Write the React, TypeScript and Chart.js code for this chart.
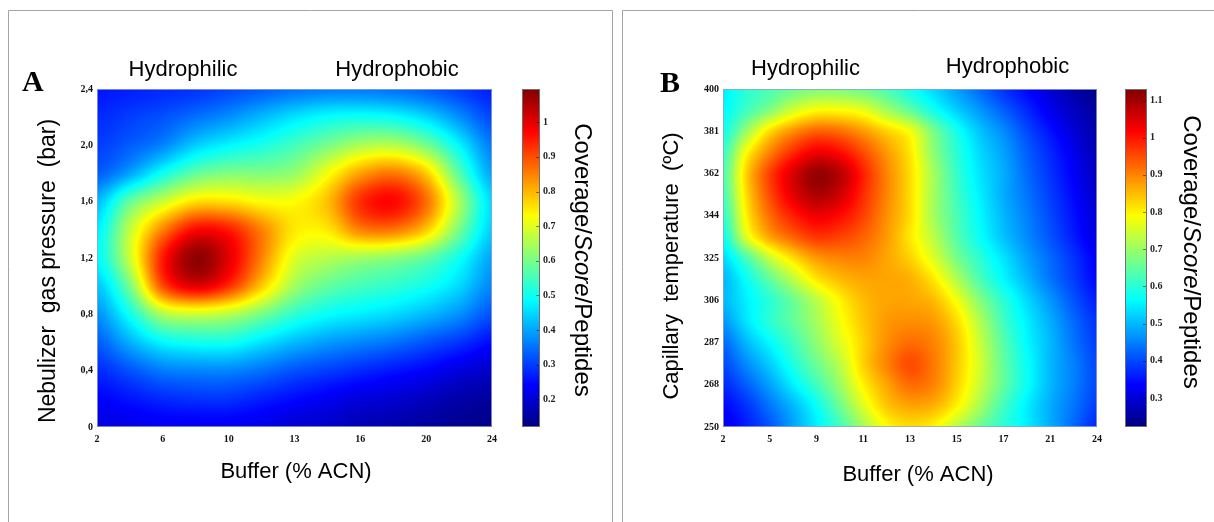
import React, { useEffect, useRef } from 'react';
import { Chart, registerables } from 'chart.js';

Chart.register(...registerables);

// ---------------- Panel A data ----------------
const A_X_TICK_LABELS = ['2', '6', '10', '13', '16', '20', '24'];
const A_Y_TICK_VALUES = [0, 0.4, 0.8, 1.2, 1.6, 2.0, 2.4];
const A_Y_TICK_LABELS = ['0', '0,4', '0,8', '1,2', '1,6', '2,0', '2,4'];
// grid columns (x-axis tick-index positions) and rows (bar)
const A_GRID_X = [0, 0.5, 1, 1.5, 2, 2.5, 3, 3.5, 4, 4.5, 5, 5.5, 6];
const A_GRID_Y = [2.4, 2.2, 2.0, 1.8, 1.6, 1.4, 1.2, 1.0, 0.8, 0.6, 0.4, 0.2, 0];
const A_VALUES = [
  [0.26, 0.27, 0.28, 0.29, 0.31, 0.33, 0.35, 0.36, 0.36, 0.35, 0.33, 0.30, 0.27],
  [0.28, 0.30, 0.32, 0.35, 0.38, 0.42, 0.46, 0.49, 0.50, 0.49, 0.45, 0.38, 0.31],
  [0.30, 0.33, 0.37, 0.44, 0.48, 0.51, 0.55, 0.60, 0.65, 0.66, 0.60, 0.48, 0.36],
  [0.33, 0.40, 0.50, 0.58, 0.61, 0.61, 0.63, 0.72, 0.82, 0.86, 0.78, 0.57, 0.40],
  [0.42, 0.58, 0.68, 0.76, 0.76, 0.73, 0.73, 0.79, 0.93, 0.97, 0.87, 0.65, 0.45],
  [0.47, 0.67, 0.85, 0.97, 0.95, 0.85, 0.75, 0.75, 0.85, 0.86, 0.78, 0.60, 0.44],
  [0.48, 0.68, 0.95, 1.08, 1.00, 0.85, 0.70, 0.66, 0.64, 0.62, 0.58, 0.50, 0.40],
  [0.43, 0.60, 0.90, 1.00, 0.93, 0.78, 0.64, 0.58, 0.55, 0.53, 0.50, 0.45, 0.37],
  [0.38, 0.50, 0.65, 0.68, 0.66, 0.60, 0.53, 0.49, 0.47, 0.45, 0.42, 0.38, 0.32],
  [0.33, 0.41, 0.48, 0.50, 0.50, 0.46, 0.42, 0.39, 0.37, 0.35, 0.32, 0.29, 0.25],
  [0.28, 0.32, 0.36, 0.37, 0.37, 0.35, 0.32, 0.30, 0.28, 0.26, 0.24, 0.21, 0.19],
  [0.24, 0.26, 0.28, 0.29, 0.29, 0.27, 0.25, 0.23, 0.21, 0.20, 0.18, 0.16, 0.15],
  [0.21, 0.22, 0.23, 0.23, 0.23, 0.22, 0.20, 0.19, 0.17, 0.16, 0.15, 0.14, 0.13],
];
const A_CB_MIN = 0.12;
const A_CB_MAX = 1.096;
const A_CB_TICKS = [0.2, 0.3, 0.4, 0.5, 0.6, 0.7, 0.8, 0.9, 1];
const A_CB_LABELS = ['0.2', '0.3', '0.4', '0.5', '0.6', '0.7', '0.8', '0.9', '1'];

// ---------------- Panel B data ----------------
const B_X_TICK_LABELS = ['2', '5', '9', '11', '13', '15', '17', '21', '24'];
const B_Y_TICK_LABELS = ['250', '268', '287', '306', '325', '344', '362', '381', '400'];
const B_GRID_X = [0, 0.5, 1, 1.5, 2, 2.5, 3, 3.5, 4, 4.5, 5, 5.5, 6, 6.5, 7, 7.5, 8];
const B_GRID_Y = [8, 7.5, 7, 6.5, 6, 5.5, 5, 4.5, 4, 3.5, 3, 2.5, 2, 1.5, 1, 0.5, 0];
const B_VALUES = [
  [0.55, 0.60, 0.63, 0.66, 0.68, 0.68, 0.66, 0.63, 0.58, 0.53, 0.48, 0.43, 0.38, 0.34, 0.30, 0.26, 0.23],
  [0.56, 0.62, 0.68, 0.75, 0.79, 0.79, 0.77, 0.71, 0.65, 0.58, 0.52, 0.47, 0.42, 0.37, 0.32, 0.28, 0.25],
  [0.58, 0.70, 0.82, 0.89, 0.93, 0.92, 0.88, 0.83, 0.78, 0.67, 0.58, 0.51, 0.46, 0.40, 0.35, 0.30, 0.26],
  [0.61, 0.79, 0.90, 0.98, 1.03, 1.01, 0.95, 0.88, 0.81, 0.69, 0.60, 0.53, 0.48, 0.42, 0.37, 0.32, 0.27],
  [0.63, 0.83, 0.96, 1.05, 1.11, 1.08, 0.99, 0.90, 0.82, 0.71, 0.61, 0.54, 0.49, 0.43, 0.38, 0.33, 0.28],
  [0.62, 0.82, 0.95, 1.04, 1.09, 1.06, 0.98, 0.90, 0.82, 0.71, 0.62, 0.55, 0.49, 0.44, 0.39, 0.34, 0.29],
  [0.60, 0.80, 0.92, 0.99, 1.03, 1.01, 0.96, 0.89, 0.82, 0.71, 0.63, 0.56, 0.50, 0.45, 0.40, 0.35, 0.30],
  [0.57, 0.76, 0.87, 0.93, 0.97, 0.96, 0.93, 0.88, 0.81, 0.73, 0.64, 0.57, 0.51, 0.46, 0.41, 0.36, 0.31],
  [0.53, 0.63, 0.74, 0.82, 0.88, 0.90, 0.90, 0.87, 0.83, 0.76, 0.67, 0.60, 0.54, 0.48, 0.43, 0.38, 0.33],
  [0.50, 0.57, 0.65, 0.73, 0.81, 0.85, 0.87, 0.87, 0.86, 0.81, 0.72, 0.63, 0.56, 0.50, 0.44, 0.39, 0.34],
  [0.50, 0.55, 0.60, 0.66, 0.73, 0.80, 0.85, 0.87, 0.87, 0.85, 0.78, 0.68, 0.60, 0.53, 0.47, 0.41, 0.36],
  [0.47, 0.54, 0.60, 0.65, 0.71, 0.78, 0.84, 0.88, 0.89, 0.88, 0.82, 0.72, 0.62, 0.55, 0.49, 0.43, 0.38],
  [0.43, 0.50, 0.56, 0.62, 0.69, 0.76, 0.83, 0.89, 0.92, 0.90, 0.84, 0.74, 0.64, 0.56, 0.50, 0.44, 0.39],
  [0.40, 0.46, 0.52, 0.59, 0.66, 0.73, 0.83, 0.90, 0.95, 0.91, 0.84, 0.75, 0.65, 0.57, 0.50, 0.45, 0.40],
  [0.37, 0.42, 0.48, 0.55, 0.62, 0.70, 0.80, 0.87, 0.92, 0.90, 0.83, 0.74, 0.65, 0.57, 0.50, 0.45, 0.40],
  [0.34, 0.38, 0.44, 0.50, 0.57, 0.66, 0.76, 0.84, 0.87, 0.86, 0.80, 0.71, 0.62, 0.55, 0.49, 0.44, 0.39],
  [0.32, 0.36, 0.41, 0.48, 0.55, 0.62, 0.71, 0.79, 0.82, 0.80, 0.73, 0.66, 0.60, 0.55, 0.49, 0.43, 0.37],
];
const B_CB_MIN = 0.222;
const B_CB_MAX = 1.131;
const B_CB_TICKS = [0.3, 0.4, 0.5, 0.6, 0.7, 0.8, 0.9, 1, 1.1];
const B_CB_LABELS = ['0.3', '0.4', '0.5', '0.6', '0.7', '0.8', '0.9', '1', '1.1'];

// ---------------- helpers ----------------
function jet(t: number): [number, number, number] {
  const c = (x: number) => Math.max(0, Math.min(1, x));
  const tt = c(t);
  return [
    Math.round(255 * c(1.5 - Math.abs(4 * tt - 3))),
    Math.round(255 * c(1.5 - Math.abs(4 * tt - 2))),
    Math.round(255 * c(1.5 - Math.abs(4 * tt - 1))),
  ];
}

function sampleGrid(values: number[][], fx: number, fy: number): number {
  const ny = values.length;
  const nx = values[0].length;
  const ix = Math.floor(fx);
  const iy = Math.floor(fy);
  const tx = fx - ix;
  const ty = fy - iy;
  const cl = (v: number, n: number) => Math.max(0, Math.min(n - 1, v));
  const get = (r: number, c: number) => values[cl(r, ny)][cl(c, nx)];
  const cr = (p0: number, p1: number, p2: number, p3: number, t: number) =>
    0.5 * (2 * p1 + (-p0 + p2) * t + (2 * p0 - 5 * p1 + 4 * p2 - p3) * t * t + (-p0 + 3 * p1 - 3 * p2 + p3) * t * t * t);
  const r: number[] = [];
  for (let m = -1; m <= 2; m++) {
    r.push(cr(get(iy + m, ix - 1), get(iy + m, ix), get(iy + m, ix + 1), get(iy + m, ix + 2), tx));
  }
  return cr(r[0], r[1], r[2], r[3], ty);
}

interface PanelCfg {
  id: string;
  letter: string;
  canvasLeft: number;
  canvasWidth: number;
  yAxisWidth: number;
  cbAxisWidth: number;
  cbBarOffset: number;
  cbBarWidth: number;
  cbLabelPad: number;
  xLabels: string[];
  yTickValues: number[];
  yLabels: string[];
  yMax: number;
  gridX: number[];
  gridY: number[];
  values: number[][];
  cbMin: number;
  cbMax: number;
  cbTicks: number[];
  cbLabels: string[];
  yTitle: string;
  yTitleSize: number;
  letterPos: [number, number];
  philicPos: [number, number];
  phobicPos: [number, number];
  xTitlePos: [number, number];
  yTitlePos: [number, number];
  cbTitlePos: [number, number];
  borderLeft: number;
  borderRight: number | null;
}

const PANEL_A: PanelCfg = {
  id: 'A',
  letter: 'A',
  canvasLeft: 0,
  canvasWidth: 617,
  yAxisWidth: 97,
  cbAxisWidth: 125,
  cbBarOffset: 30,
  cbBarWidth: 18,
  cbLabelPad: 51,
  xLabels: A_X_TICK_LABELS,
  yTickValues: A_Y_TICK_VALUES,
  yLabels: A_Y_TICK_LABELS,
  yMax: 2.4,
  gridX: A_GRID_X,
  gridY: A_GRID_Y,
  values: A_VALUES,
  cbMin: A_CB_MIN,
  cbMax: A_CB_MAX,
  cbTicks: A_CB_TICKS,
  cbLabels: A_CB_LABELS,
  yTitle: 'Nebulizer  gas pressure  (bar)',
  yTitleSize: 23,
  letterPos: [22, 91],
  philicPos: [183, 76],
  phobicPos: [397, 76],
  xTitlePos: [296, 478],
  yTitlePos: [49, 271],
  cbTitlePos: [582, 260],
  borderLeft: 8.5,
  borderRight: 612.5,
};

const PANEL_B: PanelCfg = {
  id: 'B',
  letter: 'B',
  canvasLeft: 617,
  canvasWidth: 597,
  yAxisWidth: 106,
  cbAxisWidth: 117,
  cbBarOffset: 28,
  cbBarWidth: 22,
  cbLabelPad: 53,
  xLabels: B_X_TICK_LABELS,
  yTickValues: [0, 1, 2, 3, 4, 5, 6, 7, 8],
  yLabels: B_Y_TICK_LABELS,
  yMax: 8,
  gridX: B_GRID_X,
  gridY: B_GRID_Y,
  values: B_VALUES,
  cbMin: B_CB_MIN,
  cbMax: B_CB_MAX,
  cbTicks: B_CB_TICKS,
  cbLabels: B_CB_LABELS,
  yTitle: 'Capillary  temperature  (ºC)',
  yTitleSize: 22,
  letterPos: [43, 92],
  philicPos: [188.5, 75],
  phobicPos: [390.5, 73],
  xTitlePos: [301, 481],
  yTitlePos: [55, 266],
  cbTitlePos: [574, 252],
  borderLeft: 5.5,
  borderRight: null,
};

const TICK_FONT = { family: '"Liberation Serif", "Times New Roman", serif', size: 10, weight: 'bold' as const };
const SANS = '"Liberation Sans", Arial, sans-serif';

function makeHeatPlugin(cfg: PanelCfg) {
  return {
    id: 'heat' + cfg.id,
    beforeDatasetsDraw(chart: any) {
      const { ctx, chartArea: ca, scales } = chart;
      const xs = scales.x;
      const ys = scales.y;
      const cb = scales.cb;
      const w = Math.round(ca.right - ca.left);
      const h = Math.round(ca.bottom - ca.top);
      const off = document.createElement('canvas');
      off.width = w;
      off.height = h;
      const octx = off.getContext('2d')!;
      const img = octx.createImageData(w, h);
      const gx0 = cfg.gridX[0];
      const gdx = cfg.gridX[1] - cfg.gridX[0];
      const gy0 = cfg.gridY[0];
      const gdy = cfg.gridY[1] - cfg.gridY[0];
      const fxs: number[] = [];
      for (let i = 0; i < w; i++) fxs.push((xs.getValueForPixel(ca.left + i + 0.5) - gx0) / gdx);
      for (let j = 0; j < h; j++) {
        const fy = (ys.getValueForPixel(ca.top + j + 0.5) - gy0) / gdy;
        for (let i = 0; i < w; i++) {
          const v = sampleGrid(cfg.values, fxs[i], fy);
          const [r, g, b] = jet((v - cb.min) / (cb.max - cb.min));
          const k = (j * w + i) * 4;
          img.data[k] = r;
          img.data[k + 1] = g;
          img.data[k + 2] = b;
          img.data[k + 3] = 255;
        }
      }
      octx.putImageData(img, 0, 0);
      ctx.drawImage(off, ca.left, ca.top);
    },
    afterDraw(chart: any) {
      const { ctx, scales, chartArea: ca } = chart;
      const cb = scales.cb;
      // colour bar
      const bl = cb.left + cfg.cbBarOffset;
      const bw = cfg.cbBarWidth;
      for (let y = Math.round(cb.top); y < Math.round(cb.bottom); y++) {
        const v = cb.getValueForPixel(y + 0.5);
        const [r, g, b] = jet((v - cb.min) / (cb.max - cb.min));
        ctx.fillStyle = `rgb(${r},${g},${b})`;
        ctx.fillRect(bl, y, bw, 1);
      }
      ctx.save();
      ctx.strokeStyle = '#6f6f6f';
      ctx.lineWidth = 1;
      ctx.strokeRect(bl + 0.5, Math.round(cb.top) + 0.5, bw - 1, Math.round(cb.bottom - cb.top) - 1);
      ctx.strokeStyle = 'rgba(0,0,0,0.45)';
      cfg.cbTicks.forEach((t) => {
        const y = Math.round(cb.getPixelForValue(t)) + 0.5;
        ctx.beginPath();
        ctx.moveTo(bl + bw - 1, y);
        ctx.lineTo(bl + bw - 4, y);
        ctx.stroke();
      });
      // plot frame
      ctx.strokeStyle = 'rgba(150,160,200,0.8)';
      ctx.strokeRect(ca.left + 0.5, ca.top + 0.5, ca.right - ca.left - 1, ca.bottom - ca.top - 1);

      // panel border
      ctx.strokeStyle = '#a4a4a4';
      ctx.beginPath();
      ctx.moveTo(cfg.borderLeft, 522);
      ctx.lineTo(cfg.borderLeft, 10.5);
      if (cfg.borderRight !== null) {
        ctx.lineTo(cfg.borderRight, 10.5);
        ctx.lineTo(cfg.borderRight, 522);
      } else {
        ctx.lineTo(cfg.canvasWidth, 10.5);
      }
      ctx.stroke();

      ctx.fillStyle = '#000';
      // panel letter
      ctx.font = 'bold 30px "Liberation Serif", "Times New Roman", serif';
      ctx.textAlign = 'left';
      ctx.textBaseline = 'alphabetic';
      ctx.fillText(cfg.letter, cfg.letterPos[0], cfg.letterPos[1]);
      // region labels
      ctx.font = `22px ${SANS}`;
      ctx.textAlign = 'center';
      ctx.fillText('Hydrophilic', cfg.philicPos[0], cfg.philicPos[1]);
      ctx.fillText('Hydrophobic', cfg.phobicPos[0], cfg.phobicPos[1]);
      // x title
      ctx.fillText('Buffer (% ACN)', cfg.xTitlePos[0], cfg.xTitlePos[1]);
      // y title
      ctx.save();
      ctx.translate(cfg.yTitlePos[0], cfg.yTitlePos[1]);
      ctx.rotate(-Math.PI / 2);
      ctx.font = `${cfg.yTitleSize}px ${SANS}`;
      ctx.textAlign = 'center';
      ctx.textBaseline = 'middle';
      ctx.fillText(cfg.yTitle, 0, 0);
      ctx.restore();
      // colour bar title with italic middle part
      ctx.save();
      ctx.translate(cfg.cbTitlePos[0], cfg.cbTitlePos[1]);
      ctx.rotate(Math.PI / 2);
      ctx.textBaseline = 'middle';
      ctx.textAlign = 'left';
      const parts: [string, string][] = [
        ['Coverage/', `24px ${SANS}`],
        ['Score', `italic 24px ${SANS}`],
        ['/Peptides', `24px ${SANS}`],
      ];
      let total = 0;
      const widths = parts.map(([s, f]) => {
        ctx.font = f;
        const m = ctx.measureText(s).width;
        total += m;
        return m;
      });
      let x = -total / 2;
      parts.forEach(([s, f], i) => {
        ctx.font = f;
        ctx.fillText(s, x, 0);
        x += widths[i];
      });
      ctx.restore();
      ctx.restore();
    },
  };
}

function Panel({ cfg }: { cfg: PanelCfg }) {
  const ref = useRef<HTMLCanvasElement>(null);
  useEffect(() => {
    const canvas = ref.current;
    if (!canvas) return;
    const nX = cfg.xLabels.length - 1;
    const chart = new Chart(canvas, {
      type: 'scatter',
      data: { datasets: [{ data: [], pointRadius: 0 }] },
      options: {
        animation: false,
        responsive: false,
        maintainAspectRatio: false,
        devicePixelRatio: 1,
        events: [],
        layout: { padding: { top: 89, left: 0, right: 0, bottom: 0 } },
        plugins: { legend: { display: false }, tooltip: { enabled: false }, title: { display: false } },
        scales: {
          x: {
            type: 'linear',
            position: 'bottom',
            min: 0,
            max: nX,
            afterBuildTicks: (s: any) => {
              s.ticks = cfg.xLabels.map((_, i) => ({ value: i }));
            },
            afterFit: (s: any) => {
              s.height = 95;
            },
            ticks: {
              callback: (_v: any, i: number) => cfg.xLabels[i],
              font: TICK_FONT,
              color: '#111',
              padding: 6,
              maxRotation: 0,
              autoSkip: false,
            },
            grid: { display: false, drawTicks: false },
            border: { display: false },
          },
          y: {
            type: 'linear',
            position: 'left',
            min: 0,
            max: cfg.yMax,
            afterBuildTicks: (s: any) => {
              s.ticks = cfg.yTickValues.map((v) => ({ value: v }));
            },
            afterFit: (s: any) => {
              s.width = cfg.yAxisWidth;
            },
            ticks: {
              callback: (_v: any, i: number) => cfg.yLabels[i],
              font: TICK_FONT,
              color: '#111',
              padding: 4,
              autoSkip: false,
            },
            grid: { display: false, drawTicks: false },
            border: { display: false },
          },
          cb: {
            type: 'linear',
            position: 'right',
            min: cfg.cbMin,
            max: cfg.cbMax,
            afterBuildTicks: (s: any) => {
              s.ticks = cfg.cbTicks.map((v) => ({ value: v }));
            },
            afterFit: (s: any) => {
              s.width = cfg.cbAxisWidth;
            },
            ticks: {
              callback: (_v: any, i: number) => cfg.cbLabels[i],
              font: TICK_FONT,
              color: '#222',
              padding: cfg.cbLabelPad,
              autoSkip: false,
            },
            grid: { display: false, drawTicks: false },
            border: { display: false },
          },
        },
      } as any,
      plugins: [makeHeatPlugin(cfg)],
    });
    return () => chart.destroy();
  }, [cfg]);
  return (
    <canvas
      ref={ref}
      width={cfg.canvasWidth}
      height={522}
      style={{ position: 'absolute', left: cfg.canvasLeft, top: 0, width: cfg.canvasWidth, height: 522 }}
    />
  );
}

export default function App() {
  return (
    <div style={{ position: 'fixed', left: 0, top: 0, width: 1214, height: 522, background: '#fff', overflow: 'hidden' }}>
      <Panel cfg={PANEL_A} />
      <Panel cfg={PANEL_B} />
    </div>
  );
}
